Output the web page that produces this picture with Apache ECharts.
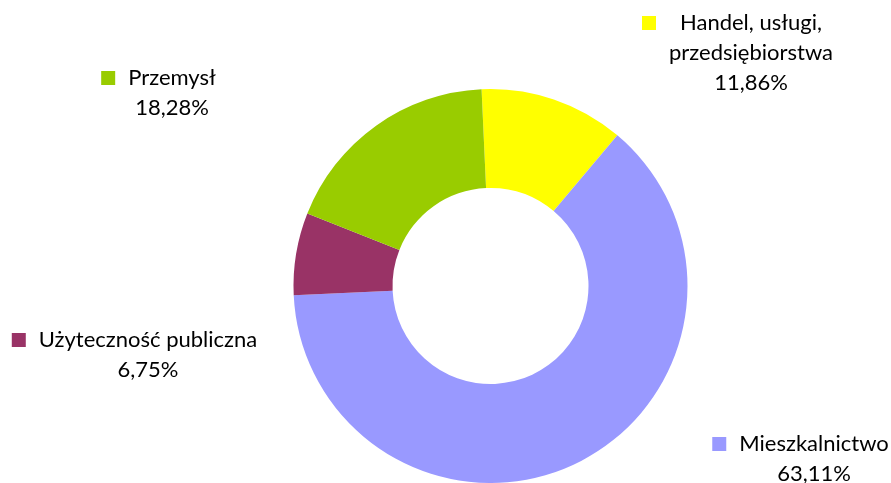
<!DOCTYPE html>
<html>
<head>
<meta charset="utf-8">
<script src="https://cdn.jsdelivr.net/npm/echarts@6/dist/echarts.min.js"></script>
<style>
  html, body { margin: 0; padding: 0; background: #fff; }
  #chart { width: 891px; height: 483px; }
</style>
</head>
<body>
<div id="chart"></div>
<script>
// Energy use by sector (share, %)
const categories = ['Handel, usługi,\nprzedsiębiorstwa', 'Mieszkalnictwo', 'Użyteczność publiczna', 'Przemysł'];
const shares = [11.86, 63.11, 6.75, 18.28];
const colors = ['#FFFF00', '#9999FF', '#993366', '#99CC00'];

// Label block centres (px) and the extra gap before the first line's key square
const labelCenters = [[751, 53], [814, 459], [148, 355], [172, 93]];
const keyGaps = [24, 13, 13, 13];

const chart = echarts.init(document.getElementById('chart'));

const fmtPct = v => v.toFixed(2).replace('.', ',') + '%';

const data = categories.map((name, i) => {
  const lines = name.split('\n');
  const first = '{k|}{g|}{t|' + lines[0] + '}{p|}';
  const rest = lines.slice(1).map(l => '{t|' + l + '}');
  const text = [first].concat(rest).concat(['{t|' + fmtPct(shares[i]) + '}']).join('\n');
  return {
    name: name,
    value: shares[i],
    itemStyle: { color: colors[i] },
    label: {
      formatter: text,
      rich: {
        k: { width: 14, height: 14, backgroundColor: colors[i] },
        g: { width: keyGaps[i] },
        p: { width: 14 + keyGaps[i] }
      }
    }
  };
});

chart.setOption({
  animation: false,
  series: [{
    type: 'pie',
    center: [490.5, 286],
    radius: [98, 197],
    startAngle: 92.6,
    clockwise: true,
    avoidLabelOverlap: false,
    emphasis: { disabled: true },
    labelLine: { show: false },
    label: {
      show: true,
      position: 'outside',
      align: 'center',
      verticalAlign: 'middle',
      fontFamily: 'Lato',
      fontSize: 22,
      color: '#000',
      lineHeight: 30,
      rich: {
        t: { fontFamily: 'Lato', fontSize: 22, color: '#000', lineHeight: 30 }
      }
    },
    labelLayout: function (params) {
      const c = labelCenters[params.dataIndex];
      return { x: c[0], y: c[1], align: 'center', verticalAlign: 'middle' };
    },
    data: data
  }]
});
</script>
</body>
</html>
